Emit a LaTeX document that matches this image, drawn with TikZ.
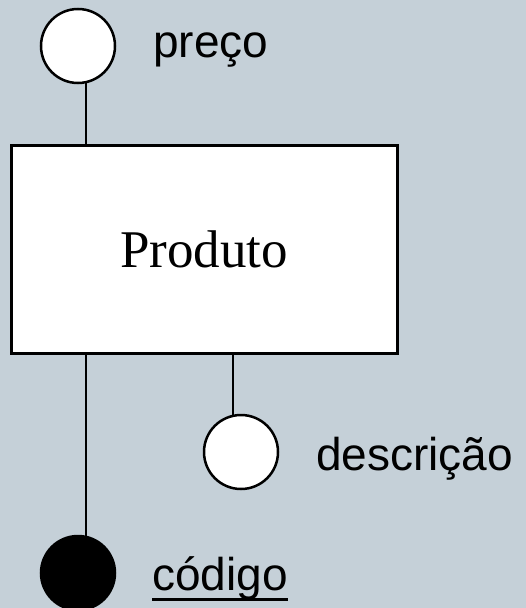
\documentclass[tikz,border=0pt]{standalone}
\usepackage{fontspec}
\setmainfont{Liberation Serif}
\newfontfamily\labelfont{Liberation Sans}
\usetikzlibrary{positioning}

\definecolor{slidebg}{HTML}{C5D0D8}

\tikzset{
  entity/.style = {draw, fill=white, line width=3pt, minimum width=386pt, minimum height=208pt,
                   font=\fontsize{53}{63}\selectfont},
  attrib/.style = {draw, circle, fill=white, line width=2.5pt, minimum size=74pt, inner sep=0pt},
  keyattrib/.style = {attrib, fill=black},
  attrlabel/.style = {anchor=base west, inner sep=0pt, font=\labelfont\fontsize{46}{55}\selectfont},
  link/.style = {line width=2.2pt}
}

\begin{document}
\begin{tikzpicture}[x=1pt, y=-1pt]
                \fill [slidebg] (0,0) rectangle (526,608);
                \useasboundingbox (0,0) rectangle (526,608);

                \node (produto) [entity] at (204,249) {Produto};

                \node (preco) [attrib] at (78,46) {};
                \node (descricao) [attrib] at (241,452) {};
                \node (codigo) [keyattrib] at (78,573) {};

                \node (precotxt) [attrlabel] at (153,57) {preço};
                \node (descricaotxt) [attrlabel] at (316,470) {descrição};
                \node (codigotxt) [attrlabel] at (152,590) {código};

                \path [link]
                    (preco.-78) edge (preco.-78 |- produto.north)
                    (descricao.102 |- produto.south) edge (descricao.102)
                    (preco.-78 |- produto.south) edge (codigo.78);
                \draw [line width=3pt] (codigotxt.south west) -- (codigotxt.south east);
            \end{tikzpicture}
\end{document}
